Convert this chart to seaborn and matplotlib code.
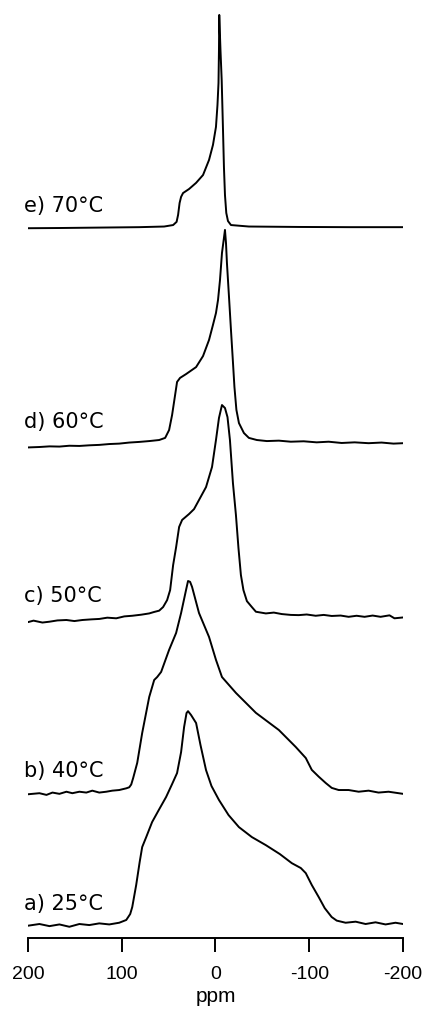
import matplotlib
matplotlib.use("Agg")
import matplotlib.pyplot as plt
import seaborn as sns
import pandas as pd

# ---------------- data ----------------
labels = ["a) 25°C", "b) 40°C", "c) 50°C", "d) 60°C", "e) 70°C"]
xticks = [200, 100, 0, -100, -200]
xtick_labels = ["200", "100", "0", "-100", "-200"]

a_ppm = [200.0, 187.8, 177.1, 166.5, 155.9, 145.2, 134.6, 124.0, 113.3, 102.7, 95.2, 91.0, 88.8, 84.6,
         80.9, 78.2, 73.9, 67.6, 60.6, 52.7, 46.3, 41.0, 36.7, 33.5, 30.9, 29.3, 26.1, 20.7, 16.0, 10.1,
         4.3, -3.7, -13.9, -25.0, -38.8, -53.7, -68.6, -81.4, -91.0, -96.3, -102.7, -110.1, -116.5,
         -123.9, -129.3, -138.8, -149.5, -160.1, -170.7, -181.4, -192.0, -200.0]
a_int = [-0.003, 0.005, -0.005, 0.003, -0.008, 0.005, 0.0, 0.008, 0.003, 0.011, 0.024, 0.052, 0.085, 0.189,
         0.297, 0.368, 0.415, 0.486, 0.542, 0.604, 0.665, 0.717, 0.816, 0.934, 1.0, 1.009, 0.991, 0.953, 0.849,
         0.731, 0.656, 0.590, 0.519, 0.462, 0.415, 0.377, 0.335, 0.292, 0.269, 0.245, 0.189, 0.132, 0.080,
         0.038, 0.021, 0.011, 0.016, 0.005, 0.013, 0.003, 0.011, 0.005]

b_ppm = [200.0, 187.8, 180.3, 173.9, 166.5, 159.0, 152.7, 145.2, 137.8, 131.4, 124.0, 116.5, 110.1, 102.7,
         95.2, 92.0, 89.9, 87.8, 83.5, 78.2, 70.7, 65.4, 62.2, 58.0, 49.5, 42.0, 36.7, 31.4, 29.3, 27.1, 25.0,
         17.6, 6.9, -0.5, -6.9, -21.8, -43.1, -67.6, -85.6, -96.3, -102.7, -110.1, -117.6, -124.0, -131.4,
         -142.0, -152.7, -163.3, -173.9, -184.6, -200.0]
b_int = [-0.011, -0.006, -0.014, -0.003, -0.009, 0.001, -0.006, 0.001, -0.003, 0.006, -0.003, 0.001, 0.006,
         0.009, 0.017, 0.022, 0.035, 0.066, 0.137, 0.278, 0.448, 0.528, 0.542, 0.566, 0.670, 0.750, 0.844,
         0.953, 0.995, 0.991, 0.967, 0.844, 0.731, 0.623, 0.542, 0.467, 0.373, 0.292, 0.212, 0.160, 0.104,
         0.072, 0.042, 0.019, 0.009, 0.009, 0.001, 0.006, -0.003, 0.001, -0.009]

c_ppm = [200.0, 194.1, 184.6, 177.1, 168.6, 159.0, 150.5, 142.0, 132.4, 123.9, 115.4, 105.9, 97.3, 88.8,
         79.3, 70.7, 65.4, 60.1, 55.9, 51.6, 48.4, 45.2, 42.0, 38.8, 35.6, 28.2, 22.9, 17.6, 10.1, 3.7, -0.5,
         -3.7, -6.9, -10.1, -12.8, -15.4, -18.6, -21.8, -24.5, -27.1, -29.8, -33.5, -38.8, -43.1, -53.7,
         -62.2, -70.7, -80.3, -88.8, -97.3, -106.9, -115.4, -124.0, -133.5, -142.0, -150.5, -159.0, -167.6,
         -176.1, -185.6, -190.9, -200.0]
c_int = [-0.024, -0.017, -0.026, -0.022, -0.016, -0.014, -0.019, -0.014, -0.011, -0.009, -0.003, -0.006,
         0.003, 0.006, 0.011, 0.017, 0.024, 0.030, 0.047, 0.080, 0.127, 0.245, 0.330, 0.425, 0.458, 0.486,
         0.509, 0.552, 0.613, 0.708, 0.835, 0.939, 1.0, 0.986, 0.943, 0.835, 0.632, 0.481, 0.325, 0.198,
         0.127, 0.075, 0.047, 0.025, 0.017, 0.021, 0.014, 0.010, 0.009, 0.012, 0.006, 0.010, 0.005, 0.007,
         0.001, 0.006, 0.001, 0.007, 0.001, 0.008, -0.006, -0.002]

d_ppm = [200.0, 187.8, 177.1, 166.5, 155.9, 145.2, 134.6, 123.9, 113.3, 102.7, 92.0, 81.4, 70.7, 60.1,
         53.7, 49.5, 46.3, 43.1, 41.0, 37.8, 31.4, 20.7, 13.3, 6.9, 2.7, -0.5, -2.7, -4.8, -6.9, -9.0,
         -10.1, -11.2, -12.2, -14.4, -16.5, -18.6, -20.2, -22.3, -25.0, -30.3, -35.6, -44.1, -54.8, -67.6,
         -80.3, -94.1, -107.9, -120.7, -134.6, -148.4, -163.3, -177.1, -189.9, -200.0]
d_int = [-0.021, -0.019, -0.016, -0.017, -0.013, -0.014, -0.011, -0.009, -0.005, -0.003, 0.002, 0.005,
         0.009, 0.014, 0.024, 0.061, 0.132, 0.226, 0.288, 0.307, 0.325, 0.358, 0.410, 0.486, 0.557, 0.613,
         0.675, 0.769, 0.896, 0.967, 1.005, 0.943, 0.849, 0.689, 0.533, 0.382, 0.264, 0.156, 0.094, 0.047,
         0.024, 0.014, 0.009, 0.011, 0.006, 0.008, 0.003, 0.006, 0.0, 0.003, -0.001, 0.002, -0.003, -0.001]

e_ppm = [200.0, 166.5, 123.9, 81.4, 54.8, 45.2, 41.5, 39.9, 38.3, 36.7, 34.6, 28.2, 20.7, 13.3, 6.9, 2.7,
         -0.5, -2.1, -3.2, -3.7, -4.0, -5.3, -6.6, -8.0, -9.0, -10.1, -11.5, -13.3, -16.5, -35.6, -88.8,
         -143.1, -200.0]
e_int = [-0.006, -0.005, -0.003, -0.001, 0.002, 0.009, 0.024, 0.057, 0.113, 0.142, 0.160, 0.179, 0.208,
         0.245, 0.316, 0.387, 0.472, 0.575, 0.679, 0.835, 1.0, 0.835, 0.693, 0.458, 0.283, 0.151, 0.066,
         0.028, 0.009, 0.002, 0.0, -0.001, -0.001]

spectra_ppm = [a_ppm, b_ppm, c_ppm, d_ppm, e_ppm]
spectra_int = [a_int, b_int, c_int, d_int, e_int]
stack_offsets = [0.061, 0.689, 1.514, 2.335, 3.354]

# ---------------- figure ----------------
sns.set_style("white")
plt.rcParams["font.family"] = ["DejaVu Sans"]
plt.rcParams["text.color"] = "black"
plt.rcParams["axes.labelcolor"] = "black"
plt.rcParams["xtick.color"] = "black"

W, H = 427, 1011
fig = plt.figure(figsize=(W / 100, H / 100), dpi=100)
ax = fig.add_axes([28 / W, (H - 938) / H, 375 / W, 930 / H])

for ppm, inten, off in zip(spectra_ppm, spectra_int, stack_offsets):
    df = pd.DataFrame({"ppm": ppm, "y": [v + off for v in inten]})
    sns.lineplot(data=df, x="ppm", y="y", sort=False, estimator=None,
                 color="black", linewidth=1.4, ax=ax)

for lab, off in zip(labels, stack_offsets):
    ax.text(204, off + 0.072, lab, ha="left", va="baseline",
            fontsize=15, family=["DejaVu Sans"], color="black")

ax.set_xlim(200, -200)
ax.set_ylim(0, 930 / 212)
ax.set_xticks(xticks)
ax.set_xticklabels(xtick_labels, family=["Liberation Sans"], fontsize=14, color="black")
ax.set_yticks([])
ax.set_ylabel("")
ax.set_xlabel("ppm", family=["Liberation Sans"], fontsize=15, labelpad=3, color="black")
ax.tick_params(axis="x", direction="out", length=10, width=1.4, color="black", pad=10,
               labelcolor="black", bottom=True)
for s in ["left", "right", "top"]:
    ax.spines[s].set_visible(False)
ax.spines["bottom"].set_color("black")
ax.spines["bottom"].set_linewidth(1.4)
ax.patch.set_alpha(0)

fig.savefig("out.png", dpi=100, facecolor="white")
